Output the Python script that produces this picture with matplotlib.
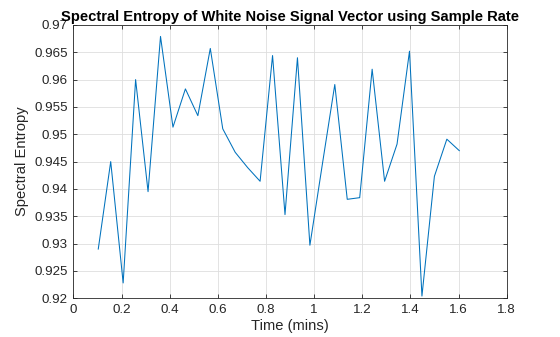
import numpy as np
import matplotlib
matplotlib.use("Agg")
import matplotlib.pyplot as plt

time_mins = [0.1034, 0.1551, 0.2068, 0.2585, 0.3102, 0.3619, 0.4136, 0.4653,
             0.5170, 0.5687, 0.6204, 0.6721, 0.7238, 0.7755, 0.8272, 0.8789,
             0.9306, 0.9823, 1.0340, 1.0857, 1.1374, 1.1891, 1.2408, 1.2925,
             1.3442, 1.3959, 1.4476, 1.4993, 1.5510, 1.6027]
entropy = [0.9290, 0.9450, 0.9228, 0.9600, 0.9395, 0.9679, 0.9513, 0.9583,
           0.9534, 0.9657, 0.9510, 0.9467, 0.9439, 0.9414, 0.9644, 0.9353,
           0.9640, 0.9297, 0.9445, 0.9591, 0.9381, 0.9384, 0.9619, 0.9414,
           0.9482, 0.9652, 0.9204, 0.9423, 0.9491, 0.9470]
xticks = [0, 0.2, 0.4, 0.6, 0.8, 1, 1.2, 1.4, 1.6, 1.8]
yticks = [0.92, 0.925, 0.93, 0.935, 0.94, 0.945, 0.95, 0.955, 0.96, 0.965, 0.97]
xtick_labels = ["0", "0.2", "0.4", "0.6", "0.8", "1", "1.2", "1.4", "1.6", "1.8"]
ytick_labels = ["0.92", "0.925", "0.93", "0.935", "0.94", "0.945", "0.95",
                "0.955", "0.96", "0.965", "0.97"]

plt.rcParams['font.family'] = ['Liberation Sans', 'DejaVu Sans']
fig = plt.figure(figsize=(5.6, 3.37), dpi=100)
ax = fig.add_axes([0.131, 0.115, 0.774, 0.811])
ax.plot(time_mins, entropy, color='#0072BD', linewidth=0.75)
ax.set_xlim(0, 1.8)
ax.set_ylim(0.92, 0.97)
ax.set_xticks(xticks)
ax.set_xticklabels(xtick_labels)
ax.set_yticks(yticks)
ax.set_yticklabels(ytick_labels)
ax.grid(True, color='#dedede', linewidth=0.6)
ax.set_axisbelow(True)
for s in ax.spines.values():
    s.set_color('#262626')
    s.set_linewidth(0.6)
ax.tick_params(direction='in', length=3, width=0.6, colors='#262626',
               labelsize=9.6, top=True, right=True)
ax.tick_params(axis='x', pad=4)
ax.tick_params(axis='y', pad=4)
ax.set_xlabel('Time (mins)', fontsize=10.6, color='#262626', labelpad=2)
ax.set_ylabel('Spectral Entropy', fontsize=10.6, color='#262626', labelpad=3.5)
ax.set_title('Spectral Entropy of White Noise Signal Vector using Sample Rate',
             fontsize=10.6, fontweight='bold', color='#000000', pad=3)
fig.savefig('out.png', dpi=100)
